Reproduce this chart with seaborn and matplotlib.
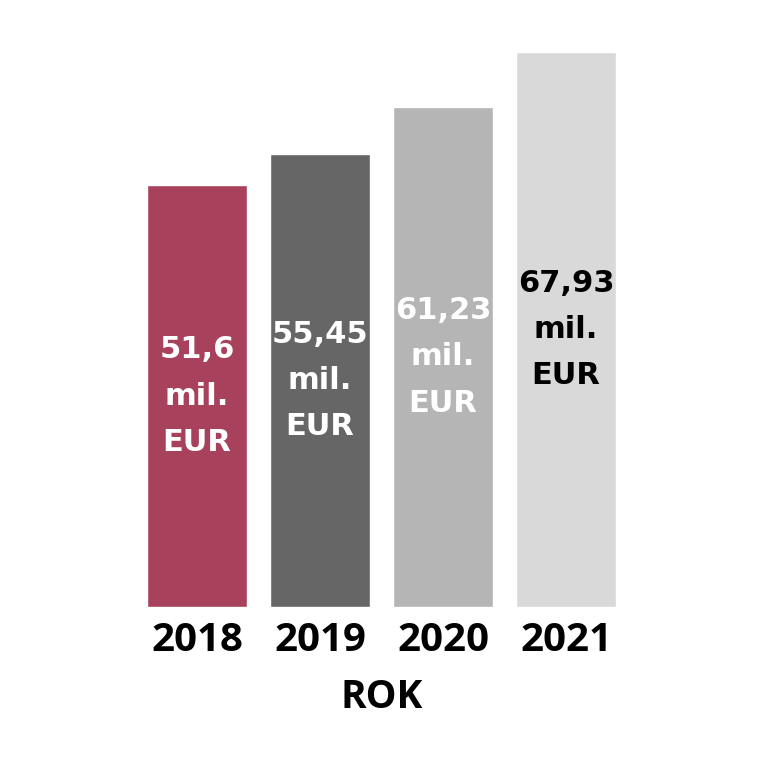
import matplotlib.pyplot as plt
import pandas as pd
import seaborn as sns

years = ["2018", "2019", "2020", "2021"]
values = [51.6, 55.45, 61.23, 67.93]
labels = ["51,6\nmil.\nEUR", "55,45\nmil.\nEUR", "61,23\nmil.\nEUR", "67,93\nmil.\nEUR"]
colors = ["#A8415B", "#666666", "#B5B5B5", "#D9D9D9"]
text_colors = ["white", "white", "white", "black"]

sns.set_style("white")
plt.rcParams["font.family"] = ["Open Sans", "DejaVu Sans"]

data = pd.DataFrame({"Rok": years, "Value": values})

fig = plt.figure(figsize=(7.68, 7.68), dpi=100)
ax = fig.add_axes([135.5 / 768, 161 / 768, 492 / 768, 572 / 768])

sns.barplot(data=data, x="Rok", y="Value", hue="Rok", palette=colors,
            width=0.81, legend=False, saturation=1, ax=ax)

for i, (v, lab) in enumerate(zip(values, labels)):
    ax.text(i, v / 2, lab, ha="center", va="center", fontsize=22,
            fontweight="bold", color=text_colors[i], linespacing=1.75,
            family="DejaVu Sans")

ax.set_ylim(0, 70)
ax.set_xlim(-0.5, 3.5)
ax.set_yticks([])
sns.despine(left=True, bottom=True)
ax.tick_params(axis="x", length=0, pad=10, labelsize=29, labelcolor="black")
for t in ax.get_xticklabels():
    t.set_fontweight("bold")
ax.set_xlabel("ROK", fontsize=28, fontweight="bold", labelpad=13, color="black")
ax.set_ylabel("")

fig.savefig("out.png", dpi=100)
